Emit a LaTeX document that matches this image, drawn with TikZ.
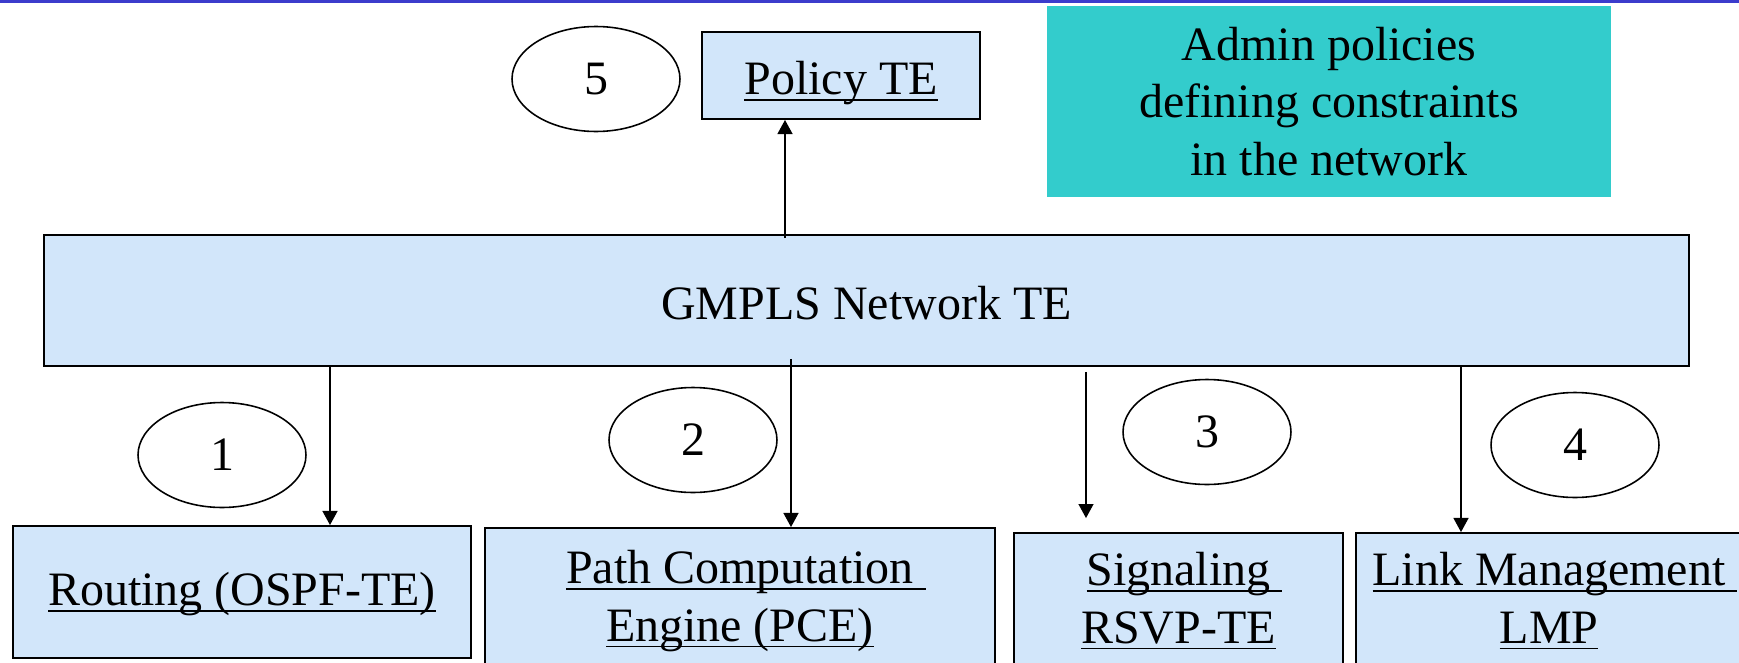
\documentclass[tikz,border=0pt]{standalone}
\usepackage{fontspec}
\setmainfont{Liberation Serif}
\usetikzlibrary{arrows.meta,calc,shapes.geometric}

\definecolor{boxblue}{RGB}{210,230,250}
\definecolor{adminteal}{RGB}{51,204,204}
\definecolor{topblue}{RGB}{60,60,204}

\newlength\ulwd
\newcommand\ulin[1]{\settowidth\ulwd{#1}\rlap{\rule[-3.6pt]{\ulwd}{1.1pt}}#1}

\begin{document}
\begin{tikzpicture}[x=0.02cm,y=-0.02cm,
  every node/.style={font=\fontsize{27.3}{32.6}\selectfont},
  tebox/.style={draw=black,line width=1.1pt,fill=boxblue,inner sep=0pt,align=center},
  numoval/.style={draw=black,line width=0.9pt,fill=white,ellipse,inner sep=0pt,
    minimum width=3.36cm,minimum height=2.1cm},
  arr/.style={line width=0.9pt,-{Triangle[length=8pt,width=8.5pt]}}]
\useasboundingbox (0,0) rectangle (1739,663);

\draw[topblue,line width=1.7pt] (0,1.5) -- (1739,1.5);

\coordinate (x0) at (785,0);
\coordinate (x1) at (330,0);
\coordinate (x2) at (791,0);
\coordinate (x3) at (1086,0);
\coordinate (x4) at (1461,0);

\node[tebox,minimum width=5.56cm,minimum height=1.74cm,text height=0.78cm,text depth=0pt] (policy) at (841,75.5) {\ulin{Policy TE}};
\node[fill=adminteal,inner sep=0pt,align=center,minimum width=11.28cm,minimum height=3.82cm] (admin) at (1329,101.5)
  {Admin policies\\defining constraints\\in the network};
\node[tebox,minimum width=32.9cm,minimum height=2.62cm,text height=0.74cm,text depth=0pt] (gmpls) at (866.5,300.5) {GMPLS Network TE};

\node[tebox,minimum width=9.16cm,minimum height=2.64cm,text height=0.8cm,text depth=0.26cm] (routing) at (242,592) {\ulin{Routing (OSPF-TE)}};
\node[tebox,minimum width=10.2cm,minimum height=2.92cm] (pce) at (740,601)
  {\ulin{Path Computation\ }\\\ulin{Engine (PCE)}};
\node[tebox,minimum width=6.58cm,minimum height=2.72cm] (sig) at (1178.5,601)
  {\ulin{Signaling\ }\\\ulin{RSVP-TE}};
\node[tebox,minimum width=7.72cm,minimum height=2.72cm] (lmp) at (1549,601)
  {\ulin{Link Management\ }\\\ulin{LMP}};

\node[numoval] (n5) at (596,79) {5};
\node[numoval] (n1) at (222,455) {1};
\node[numoval] (n2) at (693,440) {2};
\node[numoval] (n3) at (1207,432) {3};
\node[numoval] (n4) at (1575,445) {4};

\draw[arr] ([yshift=-0.08cm]gmpls.north -| x0) -- (policy.south -| x0);
\draw[arr] (gmpls.south -| x1) -- (routing.north -| x1);
\draw[arr] ([yshift=0.16cm]gmpls.south -| x2) -- (pce.north -| x2);
\draw[arr] ([yshift=-0.1cm]gmpls.south -| x3) -- ([yshift=0.28cm]sig.north -| x3);
\draw[arr] (gmpls.south -| x4) -- (lmp.north -| x4);

\end{tikzpicture}
\end{document}
